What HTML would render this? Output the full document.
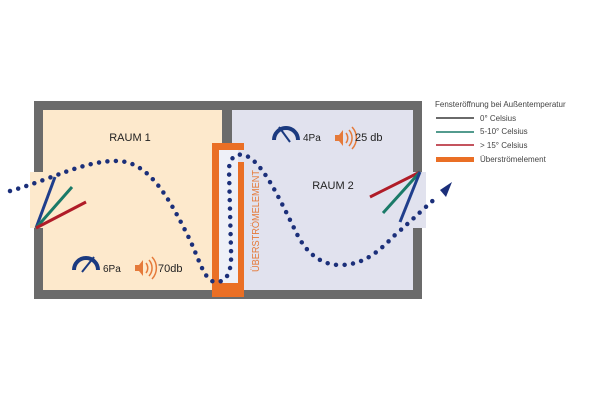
<!DOCTYPE html><html><head><style>body{margin:0;background:#fff}svg{display:block}text{font-family:"Liberation Sans",sans-serif}</style></head><body>
<svg width="600" height="400" viewBox="0 0 600 400">
<rect x="34" y="101" width="388" height="198" fill="#6b6b6b"/>
<rect x="43" y="110" width="179" height="180" fill="#fde9cc"/>
<rect x="232" y="110" width="181" height="180" fill="#e1e2ee"/>
<rect x="30" y="172" width="14" height="56" fill="#fde9cc"/>
<rect x="412" y="172" width="14" height="56" fill="#e1e2ee"/>
<rect x="212" y="143" width="32" height="154" fill="#ea6f25"/>
<rect x="219" y="150" width="19" height="133" fill="#eef0f8"/>
<rect x="238" y="150" width="8" height="12" fill="#e1e2ee"/>
<text x="130" y="141" font-size="11" text-anchor="middle" fill="#222">RAUM 1</text>
<text x="333" y="189" font-size="11" text-anchor="middle" fill="#222">RAUM 2</text>
<text transform="translate(259,272) rotate(-90)" font-size="10" fill="#e57a3a" textLength="102" lengthAdjust="spacingAndGlyphs">ÜBERSTRÖMELEMENT</text>
<g stroke-width="3" stroke-linecap="butt">
<line x1="36" y1="228" x2="55" y2="177" stroke="#1f3e8c"/>
<line x1="36" y1="228" x2="72" y2="187" stroke="#1a7a68"/>
<line x1="36" y1="228" x2="86" y2="202" stroke="#b01c28"/>
<line x1="420" y1="172" x2="370" y2="197" stroke="#b01c28"/>
<line x1="420" y1="172" x2="383" y2="213" stroke="#1a7a68"/>
<line x1="420" y1="172" x2="400" y2="222" stroke="#1f3e8c"/>
</g>
<path d="M10,191 C50,180 85,160 118,161 C150,162 170,200 190,240 C200,262 205,282 216,282 C228,282 232,270 231,250 L229,170 C229,158 236,153 244,155 C262,160 280,200 295,230 C305,252 320,265 340,265 C365,265 380,250 395,235 C410,222 420,212 438,196" fill="none" stroke="#1b2f7a" stroke-width="4.5" stroke-linecap="round" stroke-dasharray="0 8.5"/>
<polygon points="452,182 440,190 446,197" fill="#1b2f7a"/>
<g fill="none" stroke="#1b3a80" stroke-width="4">
<path d="M74,270 A12,12 0 0 1 98,270"/><path d="M274,140 A12,12 0 0 1 298,140"/></g>
<g stroke="#1b3a80" stroke-width="2"><line x1="82" y1="272" x2="94" y2="257"/><line x1="290" y1="142" x2="279" y2="127"/></g>
<g fill="#e57a3a"><polygon points="135,265 139,265 143,260 143,276 139,271 135,271"/><polygon points="335,135 339,135 343,130 343,146 339,141 335,141"/></g>
<g fill="none" stroke="#e57a3a" stroke-width="1.5"><path d="M146,263 A8,8 0 0 1 146,273"/><path d="M149,260 A12,12 0 0 1 149,276"/><path d="M152,257 A16,16 0 0 1 152,279"/>
<path d="M346,133 A8,8 0 0 1 346,143"/><path d="M349,130 A12,12 0 0 1 349,146"/><path d="M352,127 A16,16 0 0 1 352,149"/></g>
<text x="103" y="272" font-size="10" fill="#222">6Pa</text>
<text x="158" y="272" font-size="11" fill="#222">70db</text>
<text x="303" y="141" font-size="10" fill="#222">4Pa</text>
<text x="355" y="141" font-size="11" fill="#222">25 db</text>
<g font-size="8" fill="#444">
<text x="435" y="107">Fensteröffnung bei Außentemperatur</text>
<text x="480" y="121">0° Celsius</text>
<text x="480" y="134">5-10° Celsius</text>
<text x="480" y="148">&gt; 15° Celsius</text>
<text x="480" y="162">Überströmelement</text></g>
<line x1="436" y1="118" x2="474" y2="118" stroke="#111" stroke-width="1.2"/>
<line x1="436" y1="132" x2="474" y2="132" stroke="#1a7a68" stroke-width="1.5"/>
<line x1="436" y1="145" x2="474" y2="145" stroke="#b01c28" stroke-width="1.5"/>
<rect x="436" y="157" width="38" height="5" fill="#ea6f25"/>
</svg></body></html>
